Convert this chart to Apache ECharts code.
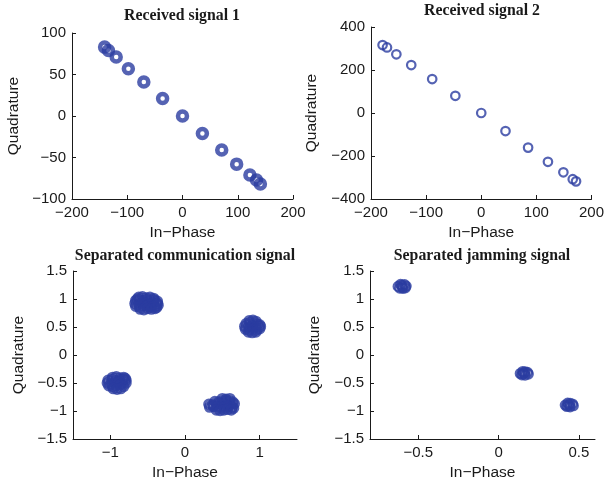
<!DOCTYPE html>
<html>
<head>
<meta charset="utf-8">
<script src="https://cdn.jsdelivr.net/npm/echarts@6/dist/echarts.min.js"></script>
<style>
  html, body { margin: 0; padding: 0; background: #ffffff; }
  #chart { width: 607px; height: 484px; }
</style>
</head>
<body>
<div id="chart"></div>
<script>
// ---- Received signal 1 (one point per constellation cluster) ----
const rx1I = [-141, -134, -120, -98, -70, -36, 0, 36, 71, 98, 122, 134, 141];
const rx1Q = [83, 79, 71, 57, 41, 21, 0, -21, -41, -58, -71, -77, -82];

// ---- Received signal 2 ----
const rx2I = [-179, -171, -154, -127, -89, -47, 0, 44, 85, 121, 149, 166, 172];
const rx2Q = [316, 305, 273, 223, 158, 80, 0, -84, -161, -227, -276, -308, -318];

// ---- Separated communication signal: four noisy QPSK clusters [I, Q] ----
const commUpperLeft = [
  [-0.62, 1.03], [-0.57, 1.04], [-0.52, 1.02], [-0.47, 1.03], [-0.42, 1.01],
  [-0.66, 0.97], [-0.61, 0.98], [-0.56, 0.97], [-0.51, 0.98], [-0.46, 0.97], [-0.41, 0.98], [-0.37, 0.96],
  [-0.67, 0.92], [-0.62, 0.91], [-0.57, 0.93], [-0.52, 0.92], [-0.47, 0.91], [-0.42, 0.93], [-0.37, 0.92],
  [-0.66, 0.87], [-0.61, 0.86], [-0.56, 0.88], [-0.51, 0.87], [-0.46, 0.86], [-0.41, 0.87], [-0.38, 0.85],
  [-0.60, 0.82], [-0.55, 0.81], [-0.50, 0.83], [-0.45, 0.82], [-0.40, 0.83], [-0.64, 1.00], [-0.36, 0.89]
];
const commUpperRight = [
  [0.86, 0.61], [0.91, 0.62], [0.95, 0.60],
  [0.82, 0.56], [0.87, 0.57], [0.92, 0.56], [0.97, 0.55], [1.00, 0.54],
  [0.80, 0.51], [0.85, 0.50], [0.90, 0.51], [0.95, 0.50], [1.01, 0.51],
  [0.81, 0.46], [0.86, 0.45], [0.91, 0.46], [0.96, 0.45], [1.00, 0.47],
  [0.85, 0.41], [0.90, 0.40], [0.95, 0.41]
];
const commLowerLeft = [
  [-0.97, -0.40], [-0.92, -0.39], [-0.87, -0.41], [-0.82, -0.40],
  [-1.03, -0.45], [-0.98, -0.44], [-0.93, -0.46], [-0.88, -0.45], [-0.83, -0.44], [-0.79, -0.45],
  [-1.04, -0.50], [-0.99, -0.51], [-0.94, -0.50], [-0.89, -0.49], [-0.84, -0.51], [-0.79, -0.50],
  [-1.02, -0.55], [-0.97, -0.56], [-0.92, -0.55], [-0.87, -0.54], [-0.82, -0.56],
  [-0.96, -0.60], [-0.91, -0.61], [-0.86, -0.60], [-0.80, -0.42]
];
const commLowerRight = [
  [0.50, -0.78], [0.55, -0.79], [0.60, -0.78],
  [0.40, -0.83], [0.45, -0.84], [0.50, -0.83], [0.55, -0.82], [0.60, -0.83], [0.64, -0.84],
  [0.32, -0.88], [0.37, -0.89], [0.42, -0.88], [0.47, -0.87], [0.52, -0.88], [0.57, -0.89], [0.62, -0.88], [0.66, -0.87],
  [0.33, -0.93], [0.38, -0.92], [0.43, -0.93], [0.48, -0.94], [0.53, -0.93], [0.58, -0.92], [0.63, -0.93], [0.65, -0.95],
  [0.42, -0.98], [0.47, -0.99], [0.52, -0.98], [0.57, -0.97], [0.62, -0.98]
];

// ---- Separated jamming signal: three tight clusters [I, Q] ----
const jamUpper = [
  [-0.625, 1.225], [-0.61, 1.26], [-0.595, 1.19], [-0.575, 1.23],
  [-0.60, 1.215], [-0.585, 1.255], [-0.615, 1.195], [-0.58, 1.20], [-0.60, 1.245]
];
const jamMiddle = [
  [0.135, -0.33], [0.15, -0.295], [0.165, -0.36], [0.18, -0.31],
  [0.16, -0.325], [0.145, -0.355], [0.185, -0.34], [0.165, -0.30], [0.15, -0.33]
];
const jamLower = [
  [0.415, -0.895], [0.43, -0.86], [0.445, -0.925], [0.46, -0.875],
  [0.44, -0.895], [0.425, -0.92], [0.465, -0.905], [0.445, -0.865], [0.43, -0.90]
];

// ---- Panel titles and axis ticks ----
const panelTitles = [
  'Received signal 1',
  'Received signal 2',
  'Separated communication signal',
  'Separated jamming signal'
];
const commITicks = [-1, 0, 1];
const jamITicks = [-0.5, 0, 0.5];

const MARK = '#2a3ca0';
const INK = '#1a1a1a';
const SANS = '"Liberation Sans", Arial, Helvetica, sans-serif';
const SERIF = '"Liberation Serif", "Times New Roman", serif';

function minusSign(v) {
  return String(v).replace('-', '\u2212');
}

function valueAxis(gridIndex, min, max, interval, name, nameGap, ticks) {
  const ax = {
    type: 'value',
    gridIndex: gridIndex,
    min: min,
    max: max,
    name: name,
    nameLocation: 'middle',
    nameGap: nameGap,
    nameTextStyle: { fontFamily: SANS, fontSize: 15.5, color: INK },
    axisLine: { show: true, onZero: false, lineStyle: { color: INK, width: 1 } },
    axisTick: { show: true, inside: true, length: 4, lineStyle: { color: INK, width: 1 } },
    axisLabel: {
      fontFamily: SANS, fontSize: 15, color: INK, margin: 6,
      showMinLabel: true, showMaxLabel: true,
      formatter: minusSign
    },
    splitLine: { show: false }
  };
  if (interval != null) ax.interval = interval;
  if (ticks) {
    ax.axisTick.customValues = ticks;
    ax.axisLabel.customValues = ticks;
  }
  return ax;
}

function flatten(lists) {
  return lists.reduce((acc, l) => acc.concat(l), []);
}

const chart = echarts.init(document.getElementById('chart'), null, { renderer: 'canvas' });

const grids = [
  { left: 72, top: 33, width: 221, height: 166 },
  { left: 371, top: 27, width: 224, height: 172 },
  { left: 73, top: 271, width: 224, height: 168 },
  { left: 370, top: 271, width: 225, height: 168 }
];

const titleCenters = [[182, 8], [482, 3], [185, 248], [482, 248]];

chart.setOption({
  animation: false,
  backgroundColor: '#ffffff',
  title: panelTitles.map((t, i) => ({
    text: t,
    left: titleCenters[i][0],
    top: titleCenters[i][1],
    textAlign: 'center',
    padding: 0,
    textStyle: { fontFamily: SERIF, fontWeight: 'bold', fontSize: 15.8, color: INK }
  })),
  grid: grids,
  xAxis: [
    valueAxis(0, -200, 200, 100, 'In\u2212Phase', 26),
    valueAxis(1, -200, 200, 100, 'In\u2212Phase', 26),
    valueAxis(2, -1.5, 1.5, 0.5, 'In\u2212Phase', 26, commITicks),
    valueAxis(3, -0.8, 0.6, 0.1, 'In\u2212Phase', 26, jamITicks)
  ],
  yAxis: [
    valueAxis(0, -100, 100, 50, 'Quadrature', 50),
    valueAxis(1, -400, 400, 200, 'Quadrature', 51),
    valueAxis(2, -1.5, 1.5, 0.5, 'Quadrature', 46),
    valueAxis(3, -1.5, 1.5, 0.5, 'Quadrature', 47)
  ],
  series: [
    {
      type: 'scatter', xAxisIndex: 0, yAxisIndex: 0,
      data: rx1I.map((v, i) => [v, rx1Q[i]]),
      symbol: 'circle', symbolSize: 9,
      itemStyle: { color: 'rgba(0,0,0,0)', borderColor: MARK, borderWidth: 4.5 }
    },
    {
      type: 'scatter', xAxisIndex: 1, yAxisIndex: 1,
      data: rx2I.map((v, i) => [v, rx2Q[i]]),
      symbol: 'circle', symbolSize: 8.5,
      itemStyle: { color: 'rgba(0,0,0,0)', borderColor: MARK, borderWidth: 2.2 }
    },
    {
      type: 'scatter', xAxisIndex: 2, yAxisIndex: 2,
      data: flatten([commUpperLeft, commUpperRight, commLowerLeft, commLowerRight]),
      symbol: 'circle', symbolSize: 8.5,
      itemStyle: { color: 'rgba(0,0,0,0)', borderColor: MARK, borderWidth: 3 }
    },
    {
      type: 'scatter', xAxisIndex: 3, yAxisIndex: 3,
      data: flatten([jamUpper, jamMiddle, jamLower]),
      symbol: 'circle', symbolSize: 9,
      itemStyle: { color: 'rgba(0,0,0,0)', borderColor: MARK, borderWidth: 2.2 }
    }
  ]
});
</script>
</body>
</html>
